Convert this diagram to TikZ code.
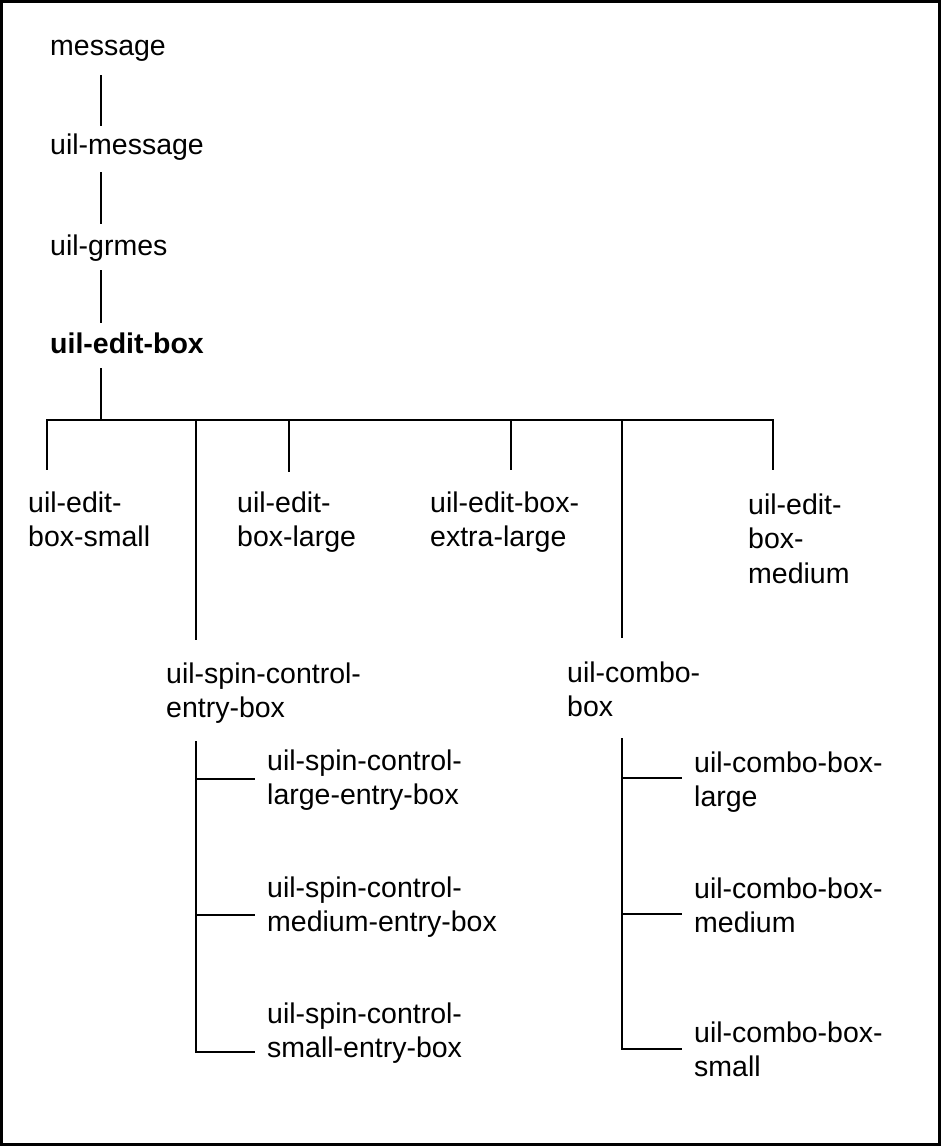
\documentclass[tikz,border=0pt]{standalone}
\usepackage{fontspec}
\setmainfont{Liberation Sans}
\usetikzlibrary{calc}

% left-aligned stacked label whose reference point is the first baseline
\newcommand\stack[1]{\vtop{\baselineskip=34.5pt\halign{##\hfil\cr#1\crcr}}}

\begin{document}
\begin{tikzpicture}[x=1pt,y=-1pt,
  lbl/.style={anchor=base west, inner sep=0pt, font=\fontsize{28.5}{34.5}\selectfont},
  link/.style={line width=2pt, line cap=rect},
  frame/.style={line width=2.5pt}]

\fill[white] (0,0) rectangle (941,1146);
\useasboundingbox (0,0) rectangle (941,1146);
\draw[frame] (1.5,1.5) rectangle (939.5,1144.5);

% class chain
\node[lbl] (msg)   at (50,55)  {message};
\node[lbl] (umsg)  at (50,154) {uil-message};
\node[lbl] (grmes) at (50,255) {uil-grmes};
\node[lbl] (ebox)  at (50,353) {\bfseries uil-edit-box};

% direct subclasses
\node[lbl] (ebsmall) at (28,512)  {\stack{uil-edit-\cr box-small}};
\node[lbl] (eblarge) at (237,512) {\stack{uil-edit-\cr box-large}};
\node[lbl] (ebxl)    at (430,512) {\stack{uil-edit-box-\cr extra-large}};
\node[lbl] (ebmed)   at (748,514) {\stack{uil-edit-\cr box-\cr medium}};
\node[lbl] (spin)    at (166,683) {\stack{uil-spin-control-\cr entry-box}};
\node[lbl] (combo)   at (567,682) {\stack{uil-combo-\cr box}};

% spin control entry boxes
\node[lbl] (spinl) at (267,770)  {\stack{uil-spin-control-\cr large-entry-box}};
\node[lbl] (spinm) at (267,897)  {\stack{uil-spin-control-\cr medium-entry-box}};
\node[lbl] (spins) at (267,1023) {\stack{uil-spin-control-\cr small-entry-box}};

% combo boxes
\node[lbl] (combol) at (694,772)  {\stack{uil-combo-box-\cr large}};
\node[lbl] (combom) at (694,898)  {\stack{uil-combo-box-\cr medium}};
\node[lbl] (combos) at (694,1042) {\stack{uil-combo-box-\cr small}};

% chain links
\draw[link] ($(msg.base west)+(51,21)$)   -- ($(umsg.base west)+(51,-29)$);
\draw[link] ($(umsg.base west)+(51,19)$)  -- ($(grmes.base west)+(51,-32)$);
\draw[link] ($(grmes.base west)+(51,16)$) -- ($(ebox.base west)+(51,-31)$);

% fan-out bar under uil-edit-box
\coordinate (bar) at ($(ebox.base west)+(51,67)$);
\draw[link] ($(ebox.base west)+(51,16)$) -- (bar);
\coordinate (dsm) at ($(ebsmall.base west)+(19,-43)$);
\coordinate (dlg) at ($(eblarge.base west)+(52,-41)$);
\coordinate (dxl) at ($(ebxl.base west)+(81,-43)$);
\coordinate (dmd) at ($(ebmed.base west)+(25,-45)$);
\coordinate (dsp) at ($(spin.base west)+(30,-44)$);
\coordinate (dcb) at ($(combo.base west)+(55,-45)$);
\draw[link] (dsm |- bar) -- (dmd |- bar);
\foreach \d in {dsm,dlg,dxl,dmd,dsp,dcb}
  \draw[link] (\d) -- (\d |- bar);

% spin control branches
\coordinate (tsp)  at ($(spin.base west)+(30,59)$);
\coordinate (bspl) at ($(spinl.base west)+(-13,9)$);
\coordinate (bspm) at ($(spinm.base west)+(-13,18)$);
\coordinate (bsps) at ($(spins.base west)+(-13,29)$);
\draw[link] (tsp) |- (bsps);
\draw[link] (tsp |- bspl) -- (bspl);
\draw[link] (tsp |- bspm) -- (bspm);

% combo box branches
\coordinate (tcb)  at ($(combo.base west)+(55,57)$);
\coordinate (bcbl) at ($(combol.base west)+(-13,6)$);
\coordinate (bcbm) at ($(combom.base west)+(-13,16)$);
\coordinate (bcbs) at ($(combos.base west)+(-13,7)$);
\draw[link] (tcb) |- (bcbs);
\draw[link] (tcb |- bcbl) -- (bcbl);
\draw[link] (tcb |- bcbm) -- (bcbm);

\end{tikzpicture}
\end{document}
